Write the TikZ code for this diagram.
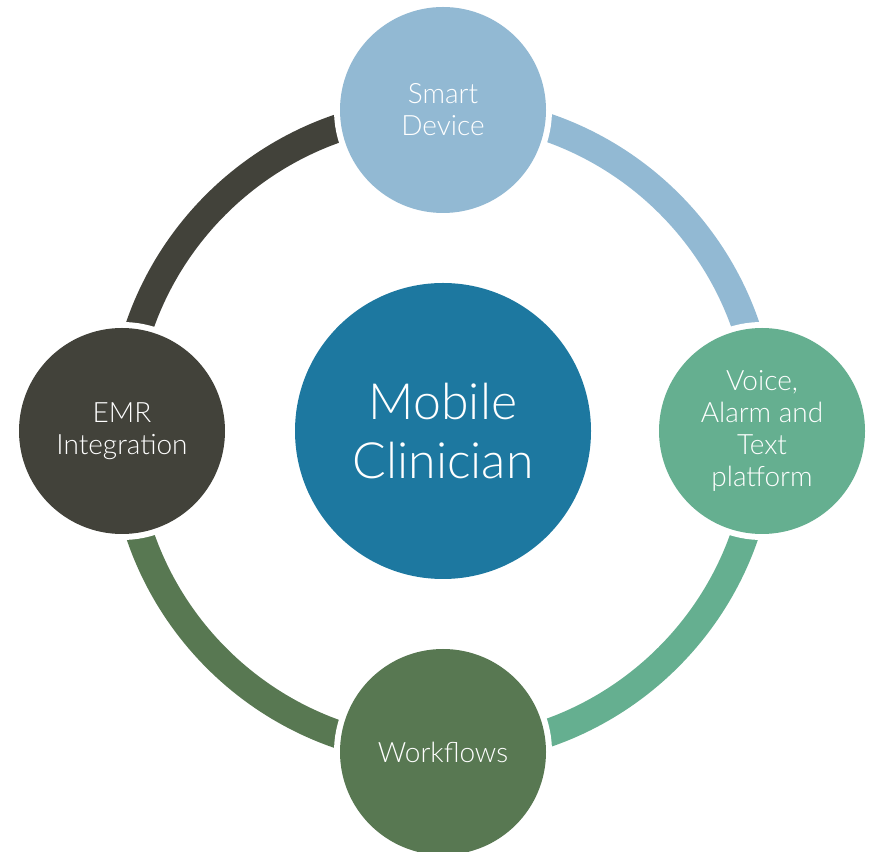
\documentclass[tikz,border=0pt]{standalone}
\usepackage{fontspec}
\IfFontExistsTF{Lato Light}{\setmainfont{Lato Light}}{\setmainfont{TeX Gyre Heros}}
\definecolor{cCenter}{RGB}{29,120,160}
\definecolor{cTop}{RGB}{146,185,211}
\definecolor{cRight}{RGB}{101,175,144}
\definecolor{cBottom}{RGB}{88,120,82}
\definecolor{cLeft}{RGB}{66,66,58}
\begin{document}
\begin{tikzpicture}[x=1pt,y=1pt,
  ring/.style={line width=28pt},
  small/.style={circle,minimum size=206pt,inner sep=0pt,text=white,align=center,
    font=\fontsize{28}{32}\selectfont},
  halo/.style={circle,fill=white,minimum size=218pt,inner sep=0pt},
  big/.style={circle,minimum size=296pt,inner sep=0pt,text=white,align=center,
    font=\fontsize{50}{59}\selectfont}]
\useasboundingbox (0,0) rectangle (872,851);
\coordinate (C) at (443,420);
\coordinate (T) at (443,741);
\coordinate (R) at (762,420);
\coordinate (B) at (443,99);
\coordinate (L) at (122,420);
\draw[ring,cTop] (T) arc[start angle=90,end angle=0,radius=320];
\draw[ring,cRight] (R) arc[start angle=0,end angle=-90,radius=320];
\draw[ring,cBottom] (B) arc[start angle=-90,end angle=-180,radius=320];
\draw[ring,cLeft] (L) arc[start angle=180,end angle=90,radius=320];
\foreach \p in {T,R,B,L} \node[halo] at (\p) {};
\node[big,fill=cCenter] (center) at (C) {Mobile\\Clinician};
\node[small,fill=cTop] (top) at (T) {Smart\\Device};
\node[small,fill=cRight] (right) at (R) {Voice,\\Alarm and\\Text\\platform};
\node[small,fill=cBottom] (bottom) at (B) {Workflows};
\node[small,fill=cLeft] (left) at (L) {EMR\\Integration};
\end{tikzpicture}
\end{document}
